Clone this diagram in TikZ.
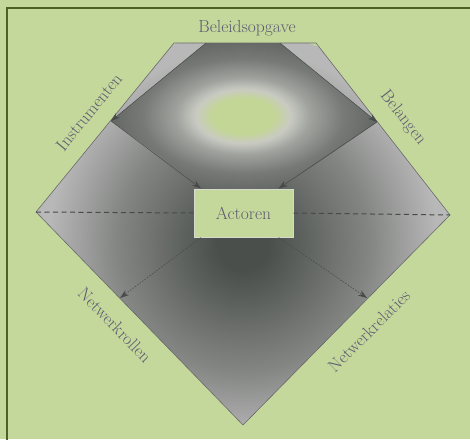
\documentclass[tikz,border=0pt]{standalone}
\usepackage{fontspec}
\usetikzlibrary{arrows.meta}
\definecolor{bggreen}{RGB}{197,216,156}
\definecolor{framecol}{RGB}{78,96,40}
\definecolor{txtcol}{RGB}{92,92,112}
\definecolor{edgecol}{RGB}{105,105,108}
\definecolor{arrcol}{RGB}{72,74,74}
\definecolor{boxedge}{RGB}{214,218,206}
\definecolor{sdark}{RGB}{74,79,75}
\definecolor{smid}{RGB}{132,134,132}
\definecolor{slight}{RGB}{184,184,184}
\definecolor{tgreen}{RGB}{196,214,150}
\definecolor{tlight}{RGB}{200,202,194}
\definecolor{tmid}{RGB}{160,162,158}
\definecolor{tdark}{RGB}{118,121,118}
\definecolor{tdarker}{RGB}{96,100,97}
\pgfdeclareradialshading{outershade}{\pgfpoint{0bp}{0bp}}{color(0bp)=(sdark); color(3bp)=(sdark); color(15bp)=(smid); color(23bp)=(slight); color(25bp)=(slight); color(50bp)=(slight)}
\pgfdeclareradialshading{topshade}{\pgfpoint{0bp}{0bp}}{color(0bp)=(tgreen); color(5.5bp)=(tgreen); color(8.5bp)=(tlight); color(12bp)=(tmid); color(18bp)=(tdark); color(25bp)=(tdarker); color(50bp)=(tdarker)}
\tikzset{
  lbl/.style={text=txtcol, font=\fontsize{17.5}{20}\selectfont, inner sep=0pt},
  solidarrow/.style={draw=arrcol, line width=0.5pt, -{Stealth[length=9pt,width=6pt]}},
  dotarrow/.style={draw=arrcol, line width=0.6pt, dash pattern=on 1.5pt off 1.5pt, -{Stealth[length=9pt,width=6pt]}},
  dashline/.style={draw=arrcol, line width=1pt, dash pattern=on 5pt off 3.5pt},
  actbox/.style={fill=bggreen, draw=boxedge, line width=1pt, minimum width=99pt, minimum height=48pt, text=txtcol, font=\fontsize{17.5}{20}\selectfont}
}
\begin{document}
\begin{tikzpicture}[x=1pt, y=-1pt]
\useasboundingbox (0,0) rectangle (470,439);
\fill[bggreen] (0,0) rectangle (470,439);
\draw[framecol, line width=2pt] (7,8) rectangle (490,460);
% vertices
\coordinate (TL) at (174,43);
\coordinate (TR) at (316,43);
\coordinate (R) at (450,215);
\coordinate (B) at (243,425);
\coordinate (L) at (36,212);
\coordinate (IT1) at (206,43);
\coordinate (IT2) at (280,43);
\coordinate (IL) at (111,121);
\coordinate (IR) at (377,122);
% outer shading
\begin{scope}
  \clip (TL) -- (TR) -- (R) -- (B) -- (L) -- cycle;
  \shade[shading=outershade] (243,245) circle (212);
\end{scope}
% top inner region
\begin{scope}
  \clip (IT1) -- (IT2) -- (IR) -- (280,189) -- (205,189) -- (IL) -- cycle;
  \shade[shading=topshade] (243,116) ellipse (140 and 80);
\end{scope}
\draw[edgecol, line width=0.6pt] (TL) -- (TR) -- (R) -- (B) -- (L) -- cycle;
% box
\node[actbox] (act) at (243.5,213) {Actoren};
% arrows
\draw[solidarrow] (IT1) -- (IL);
\draw[solidarrow] (IT2) -- (IR);
\draw[solidarrow] (IL) -- (act.150);
\draw[solidarrow] (IR) -- (act.35);
\draw[dashline] (L) -- (act.west);
\draw[dashline] (act.east) -- (R);
\coordinate (NL) at (120,298);
\coordinate (NR) at (367,298);
\draw[dotarrow] (act.-150) -- (NL);
\draw[dotarrow] (act.-35) -- (NR);
% labels
\node[lbl] (beleid) at (247,28) {Beleidsopgave};
\node[lbl, rotate=51] (instr) at (89,112) {Instrumenten};
\node[lbl, rotate=-52] (belang) at (403,118) {Belangen};
\node[lbl, rotate=-46] (nrol) at (115,325) {Netwerkrollen};
\node[lbl, rotate=45] (nrel) at (369,331) {Netwerkrelaties};
\end{tikzpicture}
\end{document}
